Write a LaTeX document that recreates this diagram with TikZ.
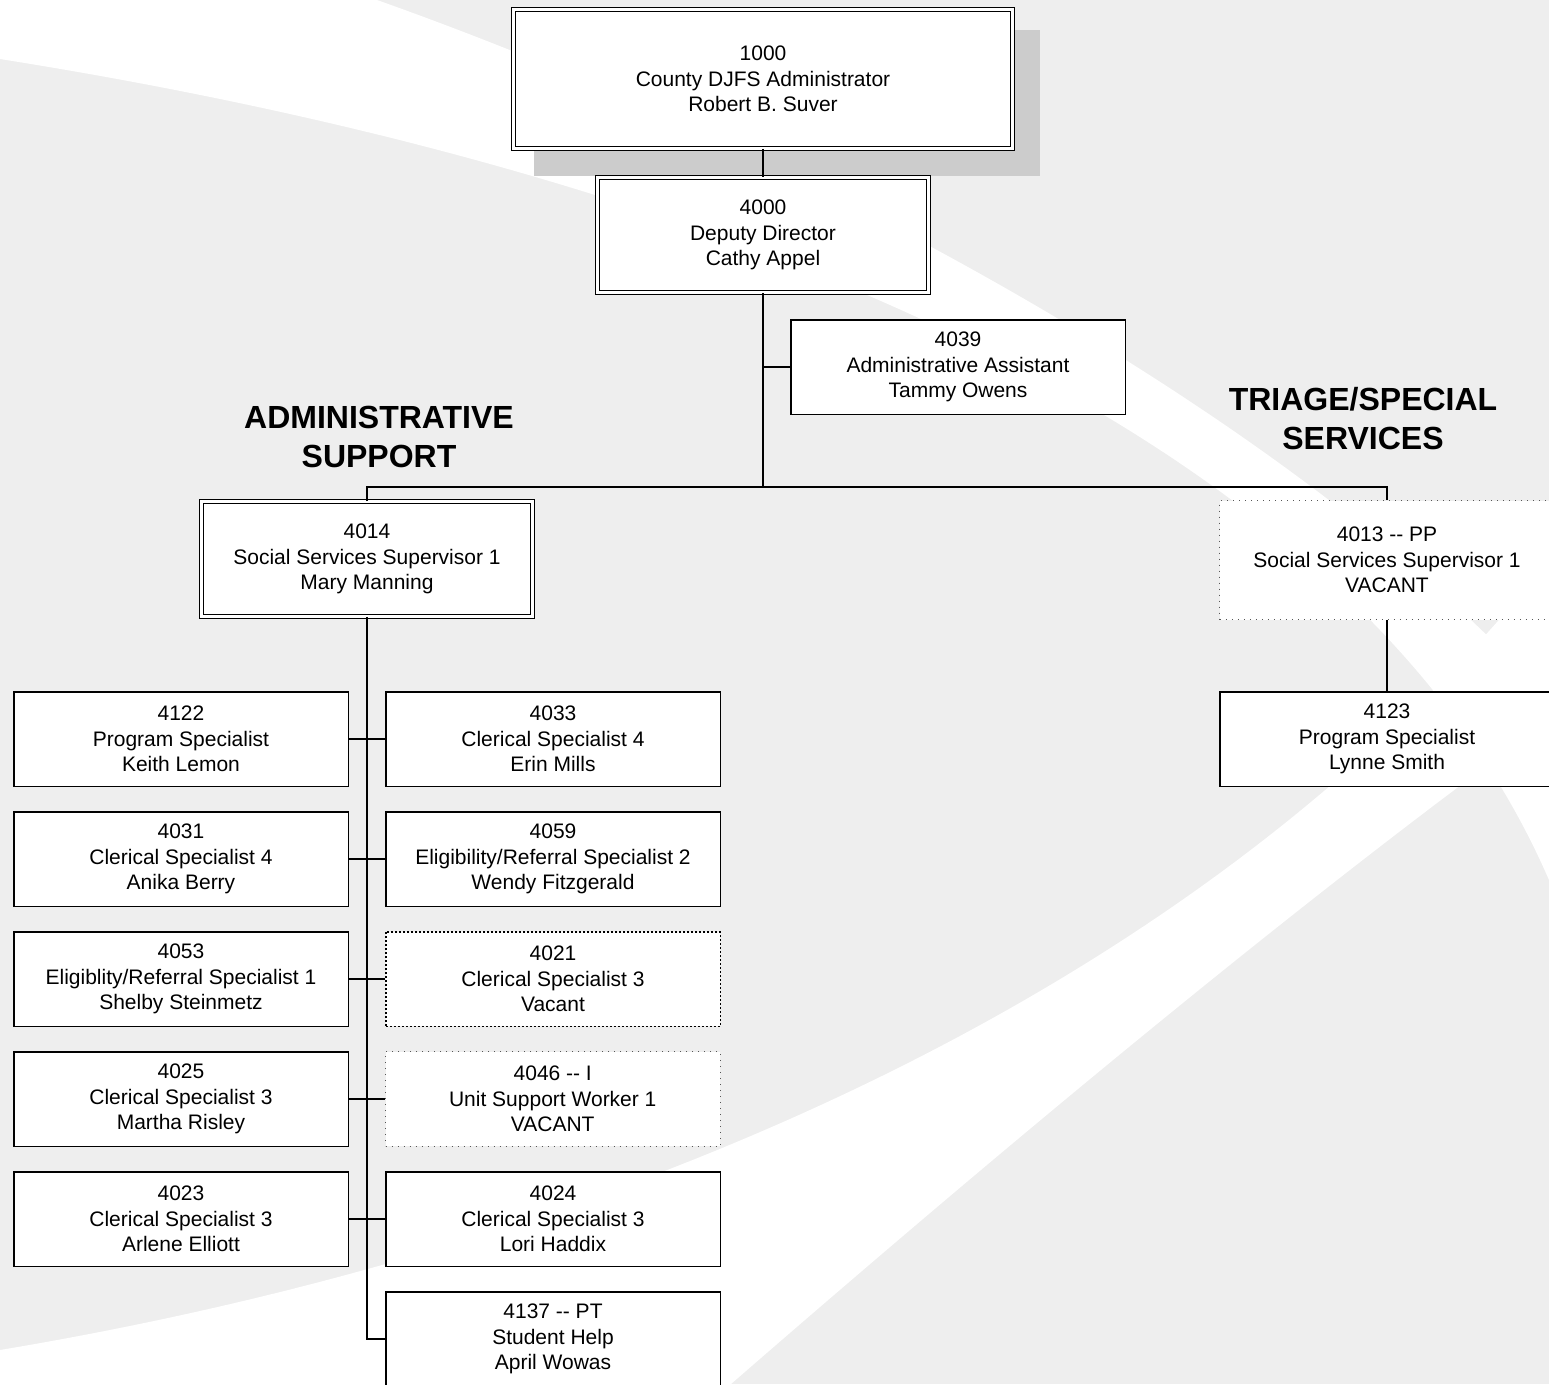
\documentclass[tikz,border=0pt]{standalone}
\usepackage{fontspec}
\setmainfont{Liberation Sans}
\usetikzlibrary{positioning}
\definecolor{bggrey}{HTML}{EEEEEE}
\definecolor{shadegrey}{HTML}{CCCCCC}
\definecolor{dotgrey}{HTML}{555555}
\newcommand{\dd}{-\kern0pt-}

\begin{document}
\begin{tikzpicture}[x=1pt, y=-1pt, node distance=24pt,
    posbox/.style={draw, rectangle, align=center, fill=white, line width=1.5pt, minimum width=334.5pt, minimum height=94.5pt, inner sep=2pt, font=\fontsize{21}{25.5}\selectfont},
    headbox/.style={posbox, double, line width=1.3pt, double distance=2.8pt, minimum width=330.6pt, minimum height=114.6pt},
    vacantbox/.style={posbox, line width=1pt, draw=dotgrey, dash pattern=on 1pt off 5pt},
    openbox/.style={posbox, dash pattern=on 2pt off 2pt},
    grouptitle/.style={align=center, font=\bfseries\fontsize{32}{39}\selectfont},
    wire/.style={line width=1.4pt}]
    % Background swoosh
    \useasboundingbox (0,0) rectangle (1549,1384);
    \clip (0,0) rectangle (1549,1384);
    \fill[bggrey] (0,0) rectangle (1549,1384);
    \fill[white] (0,0) -- (377,0) .. controls (800,150) and (1300,420) .. (1549,700) -- (1549,880) .. controls (1350,420) and (700,170) .. (0,59) -- cycle;
    \fill[white] (0,1350) .. controls (600,1250) and (1200,1000) .. (1549,560) -- (1549,720) .. controls (1300,900) and (1000,1150) .. (731,1384) -- (0,1384) -- cycle;
    \fill[shadegrey] (534,30) rectangle (1040,176);

    % Nodes for the management chain
    \node[headbox, minimum width=498.6pt, minimum height=138.6pt] (ADM) at (763,79) {1000\\ County DJFS Administrator\\ Robert B. Suver};
    \node[headbox] (DD) at (763,235) {4000\\ Deputy Director\\ Cathy Appel};
    \node[posbox] (AA) at (958,367) {4039\\ Administrative Assistant\\ Tammy Owens};

    % Group titles
    \node[grouptitle] (GA) at (379,437) {ADMINISTRATIVE\\ SUPPORT};
    \node[grouptitle] (GT) at (1363,419) {TRIAGE/SPECIAL\\ SERVICES};

    % Supervisors
    \node[headbox] (SSA) at (367,559) {4014\\ Social Services Supervisor 1\\ Mary Manning};
    \node[vacantbox, minimum height=119pt] (SST) at (1387,560) {4013 \dd{} PP\\ Social Services Supervisor 1\\ VACANT};
    \node[posbox] (PST) at (1387,739) {4123\\ Program Specialist\\ Lynne Smith};

    % Administrative support staff
    \node[posbox] (L1) at (181,739) {4122\\ Program Specialist\\ Keith Lemon};
    \node[posbox, below=of L1] (L2) {4031\\ Clerical Specialist 4\\ Anika Berry};
    \node[posbox, below=of L2] (L3) {4053\\ Eligiblity/Referral Specialist 1\\ Shelby Steinmetz};
    \node[posbox, below=of L3] (L4) {4025\\ Clerical Specialist 3\\ Martha Risley};
    \node[posbox, below=of L4] (L5) {4023\\ Clerical Specialist 3\\ Arlene Elliott};
    \node[posbox, right=36pt of L1] (R1) {4033\\ Clerical Specialist 4\\ Erin Mills};
    \node[posbox, right=36pt of L2] (R2) {4059\\ Eligibility/Referral Specialist 2\\ Wendy Fitzgerald};
    \node[openbox, right=36pt of L3] (R3) {4021\\ Clerical Specialist 3\\ Vacant};
    \node[vacantbox, right=36pt of L4] (R4) {4046 \dd{} I\\ Unit Support Worker 1\\ VACANT};
    \node[posbox, right=36pt of L5] (R5) {4024\\ Clerical Specialist 3\\ Lori Haddix};
    \node[posbox, below=of R5] (R6) {4137 \dd{} PT\\ Student Help\\ April Wowas};

    % Connectors
    \coordinate (bus) at (763,487);
    \draw[wire] (ADM) -- (DD);
    \draw[wire] (DD) -- (bus);
    \draw[wire] (AA.west) -| (DD.south);
    \draw[wire] (SSA.north) |- (bus) -| (SST.north);
    \draw[wire] (SST) -- (PST);
    \draw[wire] (SSA.south) |- (R6.west);
    \foreach \row in {1,...,5}
        \draw[wire] (L\row.east) -- (R\row.west);
\end{tikzpicture}
\end{document}
